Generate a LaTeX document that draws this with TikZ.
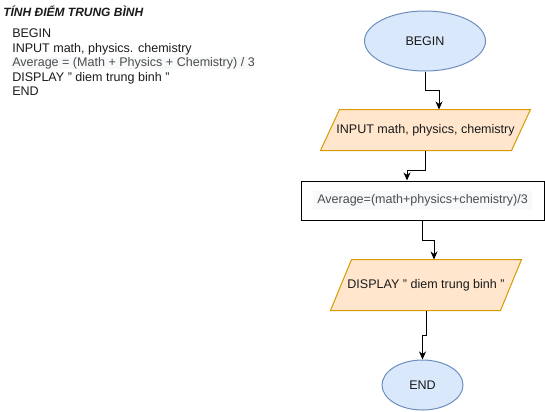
\documentclass[tikz,border=0pt]{standalone}
\usepackage{fontspec}
\setmainfont{Liberation Sans}
\usetikzlibrary{arrows.meta,calc,backgrounds,shapes.geometric}
\definecolor{ellfill}{HTML}{DAE8FC}
\definecolor{elldraw}{HTML}{6C8EBF}
\definecolor{parfill}{HTML}{FFE6CC}
\definecolor{pardraw}{HTML}{D79B00}
\definecolor{txt}{HTML}{1A1A1A}
\definecolor{graytxt}{HTML}{4D4D4D}
\definecolor{graybg}{HTML}{F8F9FA}
\newcommand{\dq}{\symbol{34}}
\tikzset{
  base/.style={font=\fontsize{9.4pt}{11pt}\selectfont, text=txt, line width=0.75pt},
  term/.style={base, ellipse, draw=elldraw, fill=ellfill, inner sep=0pt},
  iobox/.style={base, rectangle, inner sep=0pt},
  procbox/.style={base, rectangle, draw=black, fill=white, inner sep=0pt},
  parashape/.style={draw=pardraw, fill=parfill, line width=0.75pt},
  arr/.style={draw=black, line width=0.75pt, -{Stealth[length=6pt,width=5.2pt,inset=1.8pt]}},
  code/.style={font=\fontsize{9.4pt}{11pt}\selectfont, text=txt, anchor=west, inner sep=0pt, text height=6.7pt, text depth=0pt},
}
\begin{document}
\begin{tikzpicture}[x=0.75pt,y=-0.75pt]
\useasboundingbox (0,0) rectangle (545,411);
% pseudo-code text
\node[code, font=\fontsize{9pt}{11pt}\selectfont\bfseries\itshape] (title) at (3,12) {TÍNH ĐIỂM TRUNG BÌNH};
\node[code] (l1) at (12,33.5) {BEGIN};
\node[code] (l2) at (12,48) {INPUT math, physics. chemistry};
\node[code, text=graytxt, fill=graybg, text depth=2pt] (l3) at (12,63) {Average = (Math + Physics + Chemistry) / 3};
\node[code] (l4) at (12,77) {DISPLAY \dq{} diem trung binh \dq};
\node[code] (l5) at (12,91.5) {END};
% flowchart
\node[term, minimum width=121*0.75pt, minimum height=60*0.75pt] (begin) at (425,41) {BEGIN};
\node[iobox, minimum width=190*0.75pt, minimum height=40*0.75pt] (in) at (425.5,130) {INPUT math, physics, chemistry};
\node[procbox, minimum width=243*0.75pt, minimum height=39*0.75pt] (avg) at (422.5,200.5) {\colorbox{graybg}{\textcolor{graytxt}{Average=(math+physics+chemistry)/3}}};
\node[iobox, minimum width=169*0.75pt, minimum height=50*0.75pt] (disp) at (426,285) {DISPLAY \dq{} diem trung binh \dq};
\node[term, minimum width=81*0.75pt, minimum height=50*0.75pt] (end) at (422.5,385) {END};
\begin{scope}[on background layer]
  \path[parashape] ($(in.north west)+(9.5,0)$) -- ($(in.north east)+(9.5,0)$) -- ($(in.south east)+(-9.5,0)$) -- ($(in.south west)+(-9.5,0)$) -- cycle;
  \path[parashape] ($(disp.north west)+(10.5,0)$) -- ($(disp.north east)+(10.5,0)$) -- ($(disp.south east)+(-10.5,0)$) -- ($(disp.south west)+(-10.5,0)$) -- cycle;
\end{scope}
% connectors
\draw[arr] (begin.south) -- ++(0,19) -| ($(in.north)+(13.5,0)$);
\draw[arr] (in.south) -- ++(0,20) -| ($(avg.north)+(-15.5,0)$);
\draw[arr] (avg.south) -- ++(0,20) -| ($(disp.north)+(8,0)$);
\draw[arr] (disp.south) -- ++(0,25) -| (end.north);
\end{tikzpicture}
\end{document}
